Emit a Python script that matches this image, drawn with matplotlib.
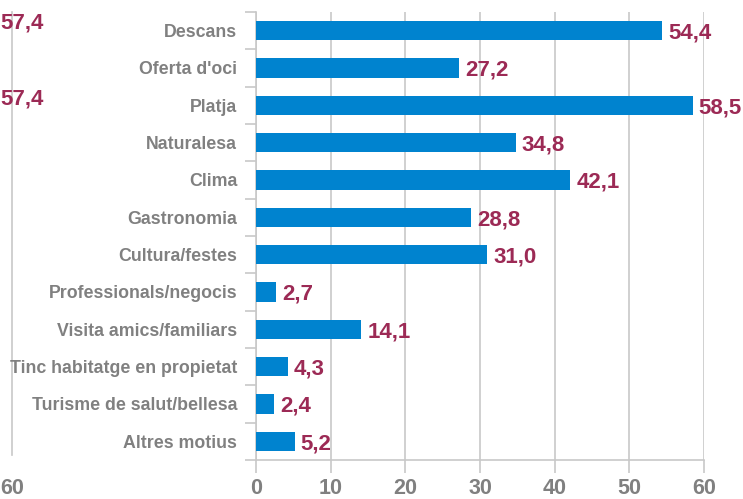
import matplotlib
matplotlib.use("Agg")
import matplotlib.pyplot as plt
import numpy as np

categories = ["Descans", "Oferta d'oci", "Platja", "Naturalesa", "Clima", "Gastronomia",
              "Cultura/festes", "Professionals/negocis", "Visita amics/familiars",
              "Tinc habitatge en propietat", "Turisme de salut/bellesa", "Altres motius"]
values = [54.4, 27.2, 58.5, 34.8, 42.1, 28.8, 31.0, 2.7, 14.1, 4.3, 2.4, 5.2]
xticks = [0, 10, 20, 30, 40, 50, 60]
ghost_labels = ["57,4", "57,4"]
ghost_tick = "60"

plt.rcParams['font.family'] = ['Liberation Sans', 'DejaVu Sans']

BAR = "#0083cf"
LBL = "#9c2a55"
GRAY = "#808080"
GRID = "#c8c8c8"

fig = plt.figure(figsize=(7.43, 4.99), dpi=100)
ax = fig.add_axes([256/743, 1-460/499, 448/743, 448/499])

y = np.arange(len(categories))
ax.barh(y, values, height=0.51, color=BAR, zorder=3)
ax.set_ylim(len(categories)-0.5, -0.5)
ax.set_xlim(0, 60)

for yi, v in zip(y, values):
    ax.text(v + 0.8, yi + 0.06, f"{v:.1f}".replace(".", ","), va="center", ha="left",
            color=LBL, fontsize=16, fontweight="bold", zorder=4)

ax.set_xticks(xticks)
ax.set_xticklabels([str(t) for t in xticks], fontsize=15.5, fontweight="bold", color=GRAY)
ax.set_yticks(y)
ax.set_yticklabels(categories, fontsize=12.8, fontweight="bold", color=GRAY)
ax.set_yticks(np.arange(len(categories)+1) - 0.5, minor=True)
ax.tick_params(axis="y", which="major", length=0, pad=13.5)
ax.tick_params(axis="y", which="minor", length=8, color=GRID, width=1.2)
ax.tick_params(axis="x", length=9, color=GRID, width=1.2, pad=4)

ax.grid(axis="x", color=GRID, linewidth=1.2, zorder=0)
for s in ["top", "right"]:
    ax.spines[s].set_visible(False)
for s in ["left", "bottom"]:
    ax.spines[s].set_color(GRID)
    ax.spines[s].set_linewidth(1.2)

# ghost artifacts on the left edge
fig.add_artist(plt.Line2D([12/743, 12/743], [1-455/499, 1-12/499], color=GRID, lw=1.2, zorder=0))
fig.text(0/743, 1-23/499, ghost_labels[0], color=LBL, fontsize=16, fontweight="bold", va="center", ha="left")
fig.text(0/743, 1-99/499, ghost_labels[1], color=LBL, fontsize=16, fontweight="bold", va="center", ha="left")
fig.text(0/743, 1-488/499, ghost_tick, color=GRAY, fontsize=15.5, fontweight="bold", va="center", ha="left")

fig.savefig("out.png", dpi=100)
